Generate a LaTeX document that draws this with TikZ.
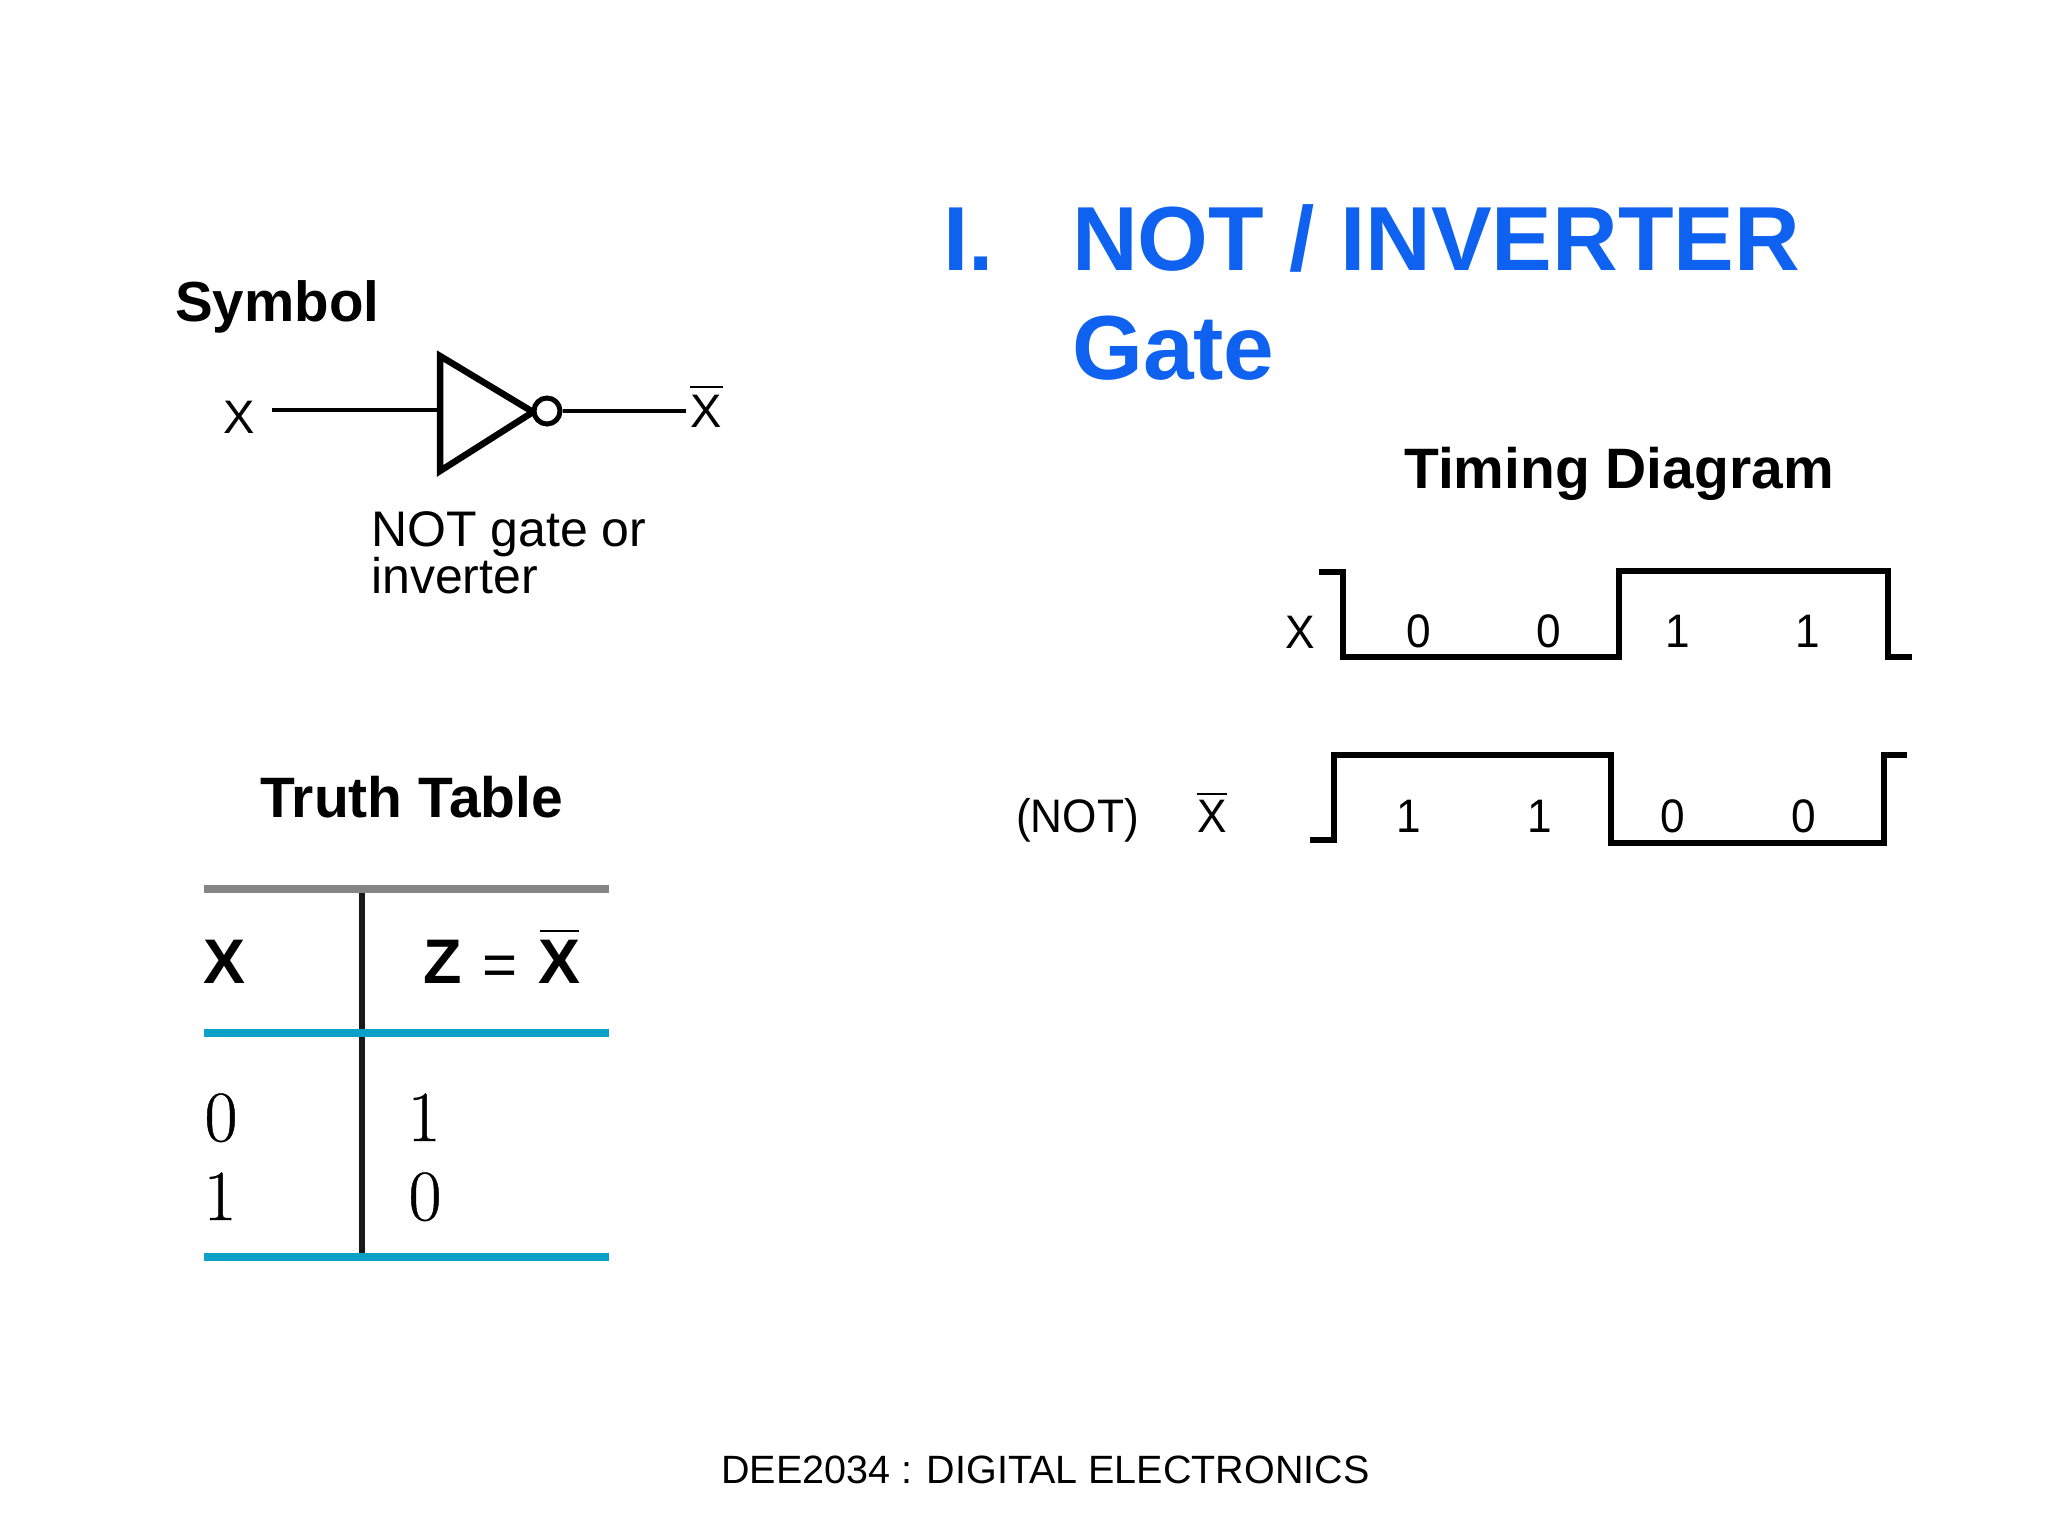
\documentclass[tikz,border=0pt]{standalone}
\usepackage{fontspec}
\setmainfont{Liberation Sans}
\definecolor{titleblue}{HTML}{0F62F0}
\definecolor{rulecyan}{HTML}{0AA0C8}
\definecolor{rulegray}{HTML}{858585}
\newfontfamily\lmr[FakeBold=0.6]{Latin Modern Roman}
\newfontfamily\cond[FakeStretch=0.94]{Liberation Sans}
\newcommand{\fsz}[1]{\fontsize{#1}{#1}\selectfont}
\tikzset{
  txt/.style={inner sep=0pt,anchor=base west},
  ctr/.style={inner sep=0pt,anchor=base},
  head/.style={txt,font=\fsz{57}\bfseries},
  titletxt/.style={txt,font=\fsz{91}\bfseries,text=titleblue},
  lab/.style={txt,font=\fsz{47}},
  clab/.style={txt,font=\cond\fsz{47}},
  digit/.style={ctr,font=\cond\fsz{47}},
  tdigit/.style={ctr,font=\lmr\fsz{72}},
  thead/.style={ctr,font=\fsz{63}\bfseries},
  wave/.style={line width=6pt,miter limit=10},
  wire/.style={line width=3.4pt},
  bar/.style={line width=2.6pt},
  rulec/.style={line width=8pt,rulecyan},
}
\begin{document}
\begin{tikzpicture}[x=1pt,y=-1pt]
\path[use as bounding box,fill=white] (0,0) rectangle (2048,1536);
% title
\node[titletxt] (t1) at (943,270) {I.};
\node[titletxt] (t2) at (1072,270) {NOT / INVERTER};
\node[titletxt] (t3) at (1072,379) {Gate};
% headings
\node[head,font=\fsz{56.5}\bfseries] (h1) at (175,321) {Symbol};
\node[head] (h2) at (1404,488) {Timing Diagram};
\node[head] (h3) at (260,817) {Truth Table};
% symbol
\coordinate (wa) at (272,410);
\coordinate (ga) at (440,356);
\coordinate (gb) at (440,471);
\coordinate (gi) at (440,410);
\coordinate (gt) at (533,412);
\coordinate (wb) at (686,410);
\draw[wire] (wa) -- (gi);
\draw[line width=6.5pt,miter limit=10] (ga) -- (gt) -- (gb) -- cycle;
\node[draw,circle,line width=5pt,fill=white,minimum size=26pt,inner sep=0pt] (bub) at (547,411) {};
\draw[wire] (bub.east) -- (wb |- bub.east);
\node[lab] (xin) at (223,433) {X};
\node[lab] (xout) at (690,427) {X};
\draw[bar] (690,387) -- (723,387);
\node[txt,font=\fsz{50}] (cap1) at (371,546) {NOT gate or};
\node[txt,font=\fsz{50}] (cap2) at (371,593) {inverter};
% truth table
\draw[line width=8pt,rulegray] (204,889) -- (609,889);
\draw[line width=6pt,black!90] (362,893) -- (362,1255);
\draw[rulec] (204,1033) -- (609,1033);
\draw[rulec] (204,1257) -- (609,1257);
\node[thead] (tx) at (225,983) {X};
\node[thead] (tz) at (443,983) {Z};
\node[ctr,font=\fsz{60}] (teq) at (500,985) {=};
\node[thead] (tnx) at (560,983) {X};
\draw[line width=2pt] (540,931) -- (579,931);
\node[tdigit] (a1) at (221,1141) {0};
\node[tdigit] (a2) at (220,1220) {1};
\node[tdigit] (b1) at (424,1141) {1};
\node[tdigit] (b2) at (425,1220) {0};
% timing
\draw[wave] (1319,572) -- (1343,572) -- (1343,657) -- (1619,657) -- (1619,571) -- (1888,571) -- (1888,657) -- (1912,657);
\draw[wave] (1310,840) -- (1334,840) -- (1334,755) -- (1611,755) -- (1611,843) -- (1884,843) -- (1884,755) -- (1907,755);
\node[clab] (tlx) at (1285,648) {X};
\node[digit] (d1) at (1419,647) {0};
\node[digit] (d2) at (1549,647) {0};
\node[digit] (d3) at (1678,647) {1};
\node[digit] (d4) at (1808,647) {1};
\node[clab] (tln) at (1016,832) {(NOT)};
\node[clab] (tlb) at (1197,832) {X};
\draw[bar] (1197,794) -- (1227,794);
\node[digit] (e1) at (1409,832) {1};
\node[digit] (e2) at (1540,832) {1};
\node[digit] (e3) at (1673,832) {0};
\node[digit] (e4) at (1804,832) {0};
% footer
\node[txt,font=\fsz{39.5}] (foot) at (721,1483) {DEE2034 : DIGITAL ELECTRONICS};
\end{tikzpicture}
\end{document}
